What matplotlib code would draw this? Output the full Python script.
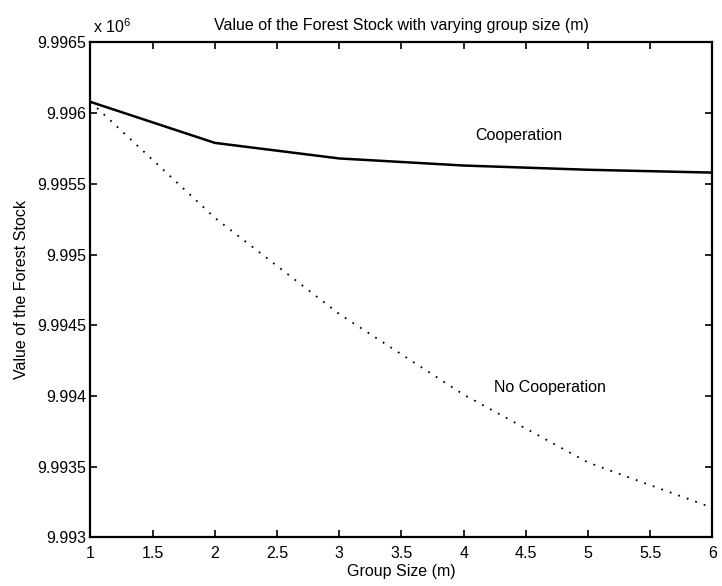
import matplotlib
matplotlib.use('Agg')
import matplotlib.pyplot as plt
import matplotlib as mpl

mpl.rcParams['font.family'] = 'Liberation Sans'
mpl.rcParams['mathtext.fontset'] = 'custom'
mpl.rcParams['mathtext.rm'] = 'Liberation Sans'
mpl.rcParams['font.size'] = 11

# group size and forest stock value (x 10^6)
group_size = [1, 2, 3, 4, 5, 6]
coop = [9.99608, 9.99579, 9.99568, 9.99563, 9.99560, 9.99558]
no_coop = [9.99608, 9.99526, 9.99458, 9.99401, 9.99353, 9.99321]

x_ticks = [1, 1.5, 2, 2.5, 3, 3.5, 4, 4.5, 5, 5.5, 6]
x_labels = ['1', '1.5', '2', '2.5', '3', '3.5', '4', '4.5', '5', '5.5', '6']
y_ticks = [9.993, 9.9935, 9.994, 9.9945, 9.995, 9.9955, 9.996, 9.9965]
y_labels = ['9.993', '9.9935', '9.994', '9.9945', '9.995', '9.9955', '9.996', '9.9965']

fig = plt.figure(figsize=(7.22, 5.86), dpi=100)
ax = fig.add_axes([0.1253, 0.0828, 0.8615, 0.8447])

ax.plot(group_size, coop, color='black', linestyle='-', linewidth=1.8)
ax.plot(group_size, no_coop, color='black', linestyle=(0, (1, 4)), linewidth=1.3)

ax.set_xlim(1, 6)
ax.set_ylim(9.993, 9.9965)
ax.set_xticks(x_ticks)
ax.set_xticklabels(x_labels)
ax.set_yticks(y_ticks)
ax.set_yticklabels(y_labels)

ax.tick_params(axis='both', direction='in', length=5, width=1.2,
               top=True, right=True, labelsize=11.5)
ax.tick_params(axis='x', pad=6)
ax.tick_params(axis='y', pad=3)
for sp in ax.spines.values():
    sp.set_linewidth(1.6)

ax.text(4.09, 9.99584, 'Cooperation', ha='left', va='center', fontsize=11.5)
ax.text(4.245, 9.99406, 'No Cooperation', ha='left', va='center', fontsize=11.5)

ax.set_title('Value of the Forest Stock with varying group size (m)', fontsize=11.5, pad=9)
ax.set_xlabel('Group Size (m)', fontsize=11.5, labelpad=2)
ax.set_ylabel('Value of the Forest Stock', fontsize=11.5, labelpad=6)

ax.annotate(r'x 10$^{6}$', xy=(0, 1), xycoords='axes fraction',
            xytext=(2, 5), textcoords='offset points', ha='left', va='bottom',
            fontsize=11.5)

fig.savefig('out.png', dpi=100)
